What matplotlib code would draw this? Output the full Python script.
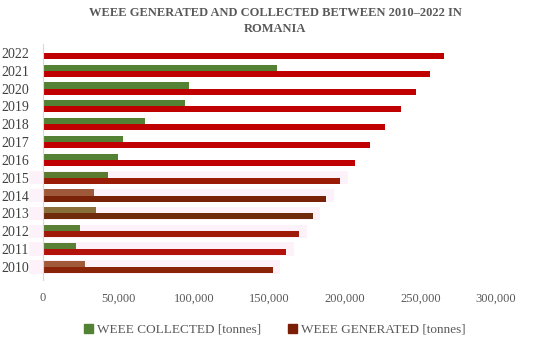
import numpy as np
import matplotlib.pyplot as plt

# Datos (toneladas)
years = [2010, 2011, 2012, 2013, 2014, 2015, 2016, 2017, 2018, 2019, 2020, 2021, 2022]
generated = [152000, 161000, 169700, 178600, 187400, 196700, 206600,
             216600, 226700, 236900, 246800, 256300, 265500]
collected = [27800, 22100, 24500, 35100, 34000, 43200, 49400,
             52700, 67500, 94200, 96500, 155000, np.nan]

# Colores de cada barra (la imagen original tiene tonos distintos en 2010-2015)
gen_colors = ['#8a2408', '#b3120a', '#a01a0a', '#6e2a0a', '#7a2208', '#9a1c06',
              '#c00000', '#c00000', '#c00000', '#c00000', '#c00000', '#c00000', '#c00000']
col_colors = ['#a05a3a', '#5a8035', '#5a8035', '#8a6e3a', '#a0583a', '#5a7a30',
              '#548235', '#548235', '#548235', '#548235', '#548235', '#548235', '#548235']
halo_years = [2010, 2011, 2012, 2013, 2014, 2015]

plt.rcParams['font.family'] = ['Liberation Serif', 'DejaVu Serif']

fig = plt.figure(figsize=(5.5, 3.49), dpi=100)
ax = fig.add_axes([0.078, 0.198, 0.824, 0.676])

y = np.arange(len(years))
h = 0.34

# Halo rosado muy tenue detrás de 2010-2015
for i, yr in enumerate(years):
    if yr in halo_years:
        ax.barh(y[i], generated[i] + 14000, left=-9000, height=0.75,
                color='#fef2fa', zorder=0, clip_on=False)

ax.barh(y + 0.17, collected, height=h, color=col_colors, zorder=2,
        label='WEEE COLLECTED [tonnes]')
ax.barh(y - 0.17, generated, height=h, color=gen_colors, zorder=2,
        label='WEEE GENERATED [tonnes]')

ax.set_xlim(0, 300000)
ax.set_ylim(-0.73, 12.5)
ax.set_yticks(y)
ax.set_yticklabels([str(v) for v in years], fontsize=10, color='#404040')
xt = np.arange(0, 300001, 50000)
ax.set_xticks(xt)
ax.set_xticklabels([f'{v:,}' for v in xt], fontsize=9, color='#595959')
ax.tick_params(axis='x', length=0, pad=9)
ax.tick_params(axis='y', length=0, pad=10)

for s in ['top', 'right', 'bottom']:
    ax.spines[s].set_visible(False)
ax.spines['left'].set_color('#d9d9d9')

fig.suptitle('WEEE GENERATED AND COLLECTED BETWEEN 2010–2022 IN\nROMANIA',
             fontsize=9, fontweight='bold', color='#595959', y=0.98,
             linespacing=1.45)

handles = [plt.Rectangle((0, 0), 1, 1, color='#548235'),
           plt.Rectangle((0, 0), 1, 1, color='#7b1e06')]
fig.legend(handles, ['WEEE COLLECTED [tonnes]', 'WEEE GENERATED [tonnes]'],
           loc='center', bbox_to_anchor=(0.5, 0.055), ncol=2, frameon=False,
           fontsize=9.5, handlelength=0.7, handleheight=0.7, handletextpad=0.3,
           columnspacing=2.0, labelcolor='#595959')

fig.savefig('out.png', dpi=100)
